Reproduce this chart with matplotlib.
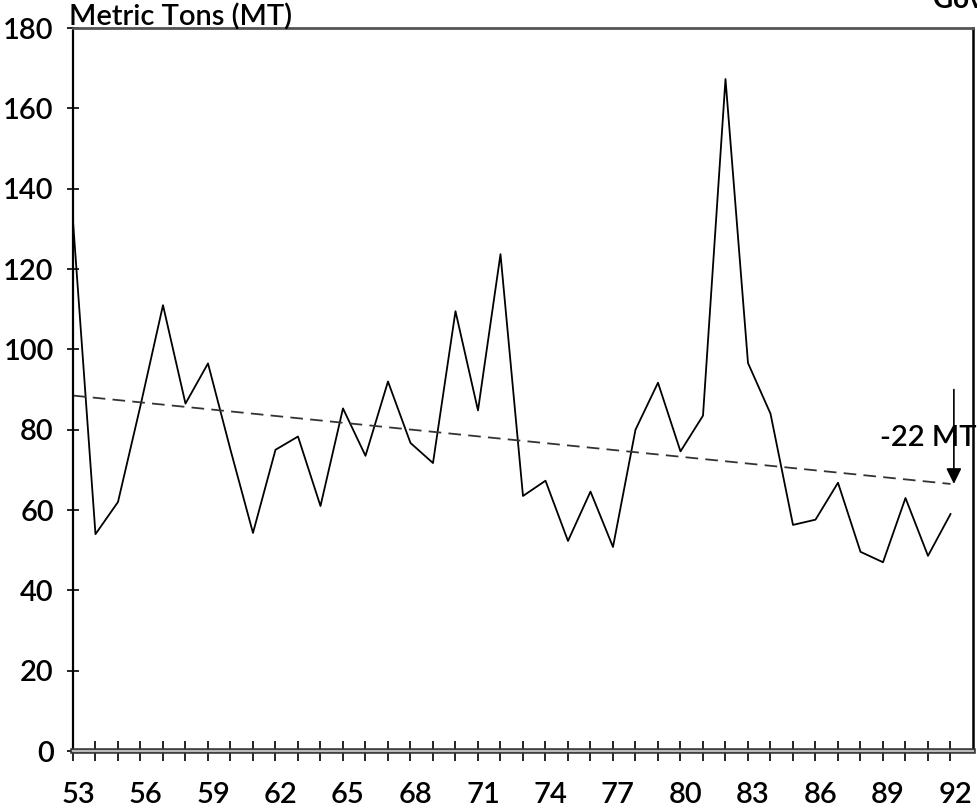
import matplotlib
matplotlib.use("Agg")
import matplotlib.pyplot as plt
import matplotlib.transforms as mtransforms
import numpy as np

# 1. DATA
years = np.arange(53, 93)
tons = [132, 54, 62, 86, 111, 86.5, 96.5, 75, 54.3, 75,
        78.3, 61, 85.3, 73.5, 92, 76.7, 71.7, 109.5, 84.8, 123.7,
        63.5, 67.3, 52.3, 64.6, 50.8, 80, 91.7, 74.6, 83.5, 167.3,
        96.6, 84, 56.3, 57.6, 66.8, 49.6, 47, 63, 48.6, 59]

trend_years = [53, 92]
trend_vals = [88.5, 66.5]

arrow_top = 90
drop_label = "-22 MT"

label_years = np.arange(53, 93, 3)
y_ticks = np.arange(0, 181, 20)

plt.rcParams["font.family"] = ["Lato", "DejaVu Sans"]
plt.rcParams["font.weight"] = "semibold"

# 2. FIGURE
fig = plt.figure(figsize=(9.77, 8.08), dpi=100)
ax = fig.add_axes([0.0747, 0.0705, 0.9212, 0.8948])

ax.plot(years, tons, color="black", linewidth=1.3)
ax.plot(trend_years, trend_vals, color="#333333", linewidth=1.3,
        linestyle=(0, (7, 4)))

# arrow for the drop
ax.annotate("", xy=(92.15, trend_vals[-1]), xytext=(92.15, arrow_top),
            arrowprops=dict(arrowstyle="-|>,head_length=0.47,head_width=0.23",
                            color="black", lw=1.2, mutation_scale=20,
                            shrinkA=0, shrinkB=0))
ax.text(88.85, 78, drop_label, fontsize=21, ha="left", va="center")

ax.set_xlim(53, 93)
ax.set_ylim(0, 180)

ax.set_xticks(label_years)
ax.set_xticks(years, minor=True)
ax.set_xticklabels([str(y) for y in label_years])
ax.set_yticks(y_ticks)
ax.set_yticklabels([str(v) for v in y_ticks])

ax.tick_params(axis="x", which="both", direction="inout", length=14.4,
               width=1.2, color="black")
ax.tick_params(axis="x", which="major", labelsize=21, pad=15)
ax.tick_params(axis="y", direction="inout", length=8.6, width=1.2,
               labelsize=21, pad=9.5)

# shift year labels a little to the right like the original
offset = mtransforms.ScaledTranslation(5 / 100, 0, fig.dpi_scale_trans)
for lab in ax.get_xticklabels():
    lab.set_transform(lab.get_transform() + offset)

ax.spines["left"].set_linewidth(1.6)
ax.spines["right"].set_linewidth(1.8)
ax.spines["top"].set_linewidth(2.0)
ax.spines["top"].set_color("#555555")
ax.spines["bottom"].set_linewidth(4)
ax.spines["bottom"].set_color("#333333")
ax.axhline(0, color="#bbbbbb", linewidth=1.6, clip_on=False, zorder=3)

ax.text(-0.004, 1.003, "Metric Tons (MT)", transform=ax.transAxes,
        fontsize=21, ha="left", va="baseline")
fig.text(0.955, 1.0, "Gov", fontsize=20, fontweight="bold",
         ha="left", va="center")

fig.savefig("out.png", dpi=100)
